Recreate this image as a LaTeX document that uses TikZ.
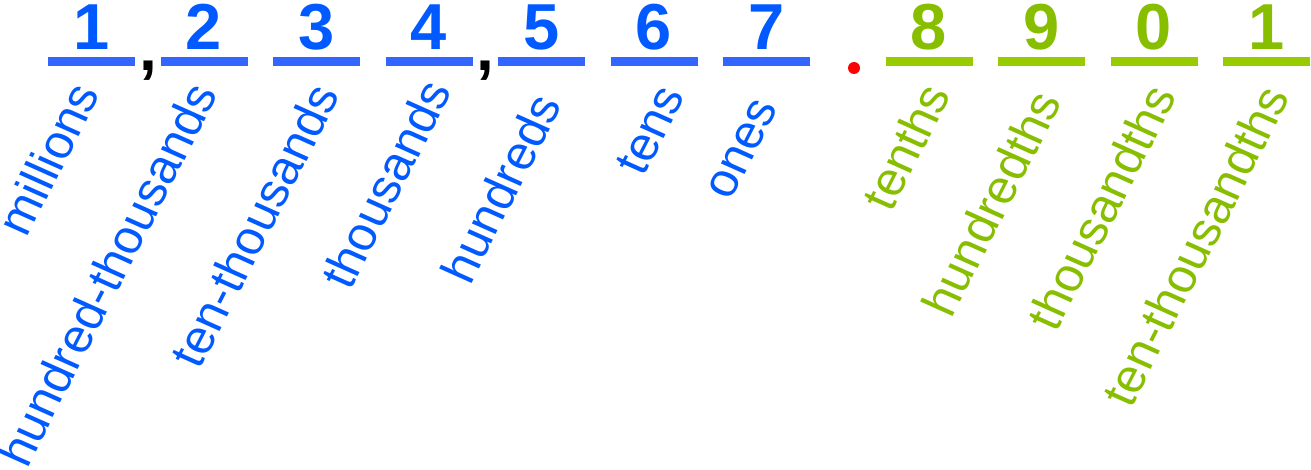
\documentclass[tikz,border=0pt]{standalone}
\usepackage{fontspec}
\setmainfont{Liberation Sans}
\definecolor{bluetxt}{RGB}{0,90,255}
\definecolor{bluebar}{RGB}{51,102,255}
\definecolor{greentxt}{RGB}{136,190,0}
\definecolor{greenbar}{RGB}{153,204,0}
\tikzset{
  barb/.style={fill=bluebar, draw=none, minimum width=87pt, minimum height=9pt, inner sep=0pt},
  barg/.style={fill=greenbar, draw=none, minimum width=87pt, minimum height=9pt, inner sep=0pt},
  digb/.style={text=bluetxt, font=\fontsize{65}{65}\selectfont\bfseries, anchor=base, inner sep=0pt},
  digg/.style={text=greentxt, font=\fontsize{65}{65}\selectfont\bfseries, anchor=base, inner sep=0pt},
  comma/.style={text=black, font=\fontsize{64}{64}\selectfont\bfseries, anchor=base, inner sep=0pt},
  labb/.style={text=bluetxt, font=\fontsize{49}{49}\selectfont, rotate=63, xslant=-0.05, anchor=base east, inner sep=0pt},
  labg/.style={text=greentxt, font=\fontsize{49}{49}\selectfont, rotate=63, xslant=-0.05, anchor=base east, inner sep=0pt},
}
\begin{document}
\begin{tikzpicture}[x=1pt,y=-1pt]
\useasboundingbox (0,0) rectangle (1311,470);
% bars
\node[barb] (b1) at (91.5,61.5) {};
\node[barb] (b2) at (204,61.5) {};
\node[barb] (b3) at (316.5,61.5) {};
\node[barb] (b4) at (429,61.5) {};
\node[barb] (b5) at (541.5,61.5) {};
\node[barb] (b6) at (654,61.5) {};
\node[barb] (b7) at (766.5,61.5) {};
\node[barg] (b8) at (929,61.5) {};
\node[barg] (b9) at (1041.5,61.5) {};
\node[barg] (b10) at (1154,61.5) {};
\node[barg] (b11) at (1266.5,61.5) {};
% digits
\node[digb] (d1) at (91.5,50) {1};
\node[digb] (d2) at (204,50) {2};
\node[digb] (d3) at (316.5,50) {3};
\node[digb] (d4) at (429,50) {4};
\node[digb] (d5) at (541.5,50) {5};
\node[digb] (d6) at (654,50) {6};
\node[digb] (d7) at (766.5,50) {7};
\node[digg] (d8) at (929,50) {8};
\node[digg] (d9) at (1041.5,50) {9};
\node[digg] (d10) at (1154,50) {0};
\node[digg] (d11) at (1266.5,50) {1};
% commas and point
\node[comma] (c1) at (148,71) {,};
\node[comma] (c2) at (485,71) {,};
\node[circle, fill=red, inner sep=0pt, minimum size=12pt] (pt) at (854,68) {};
% labels
\node[labb] (l1) at (101,93) {millions};
\node[labb] (l2) at (219,93) {hundred-thousands};
\node[labb] (l3) at (341,94) {ten-thousands};
\node[labb] (l4) at (453,90) {thousands};
\node[labb] (l5) at (563,104) {hundreds};
\node[labb] (l6) at (686,95) {tens};
\node[labb] (l7) at (779,107) {ones};
\node[labg] (l8) at (952,94) {tenths};
\node[labg] (l9) at (1063,101) {hundredths};
\node[labg] (l10) at (1178,95) {thousandths};
\node[labg] (l11) at (1291,96) {ten-thousandths};
\end{tikzpicture}
\end{document}
